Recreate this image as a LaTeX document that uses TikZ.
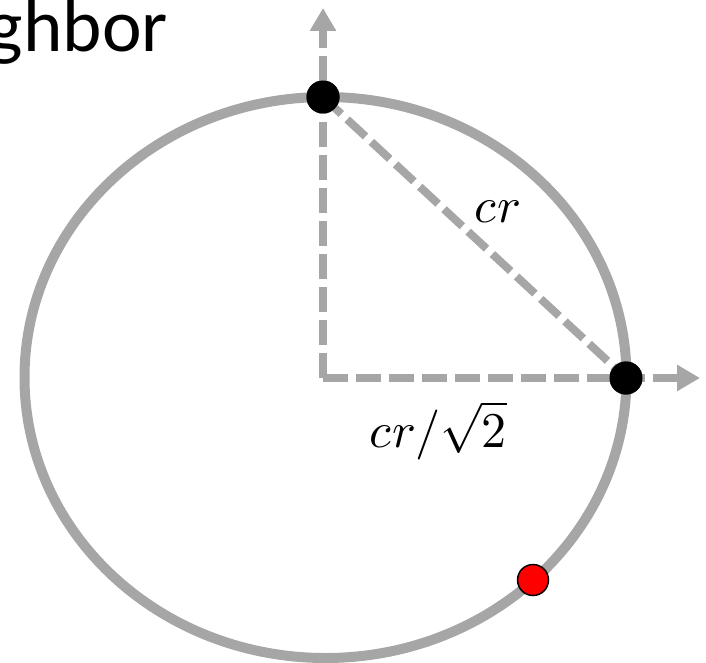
\documentclass[tikz,border=0pt]{standalone}
\usepackage{fontspec}
\usepackage{unicode-math}
\setmainfont{Carlito}
\setmathfont{Latin Modern Math}
\usetikzlibrary{arrows.meta}
\definecolor{gry}{HTML}{A6A6A6}
\tikzset{
  axisline/.style={draw=gry,line width=8pt,dash pattern=on 25pt off 8pt,-{Triangle[length=23pt,width=25pt]}},
  diagline/.style={draw=gry,line width=8pt,dash pattern=on 25pt off 8pt},
  blackdot/.style={circle,fill=black,minimum size=33pt,inner sep=0pt},
  reddot/.style={circle,fill=red,draw=black,line width=1.5pt,minimum size=31pt,inner sep=0pt},
  mathlbl/.style={font=\fontsize{50}{58}\selectfont,inner sep=0pt}
}
\begin{document}
\begin{tikzpicture}[x=1pt,y=-1pt]
\useasboundingbox (0,0) rectangle (706,663);
\draw[gry,line width=10pt] (325.5,377.5) ellipse [x radius=301, y radius=280.5];
\coordinate (o) at (323,378);
\coordinate (up) at (323,8);
\coordinate (rt) at (700,378);
\node[blackdot] (p1) at (323,97) {};
\node[blackdot] (p2) at (626,378) {};
\draw[axisline] (o) -- (up);
\draw[axisline] (o) -- (rt);
\draw[diagline] (p1.center) -- (p2.center);
\node[blackdot] at (p1) {};
\node[blackdot] at (p2) {};
\node[reddot] (q) at (533,580) {};
\node[mathlbl,anchor=base] (l1) at (498,222) {$cr$};
\node[mathlbl,anchor=base] (l2) at (438,447) {$cr/\sqrt{2}$};
\node[anchor=base east,inner sep=0pt,font=\fontsize{75}{90}\selectfont] (t) at (168,52) {ghbor};
\end{tikzpicture}
\end{document}
